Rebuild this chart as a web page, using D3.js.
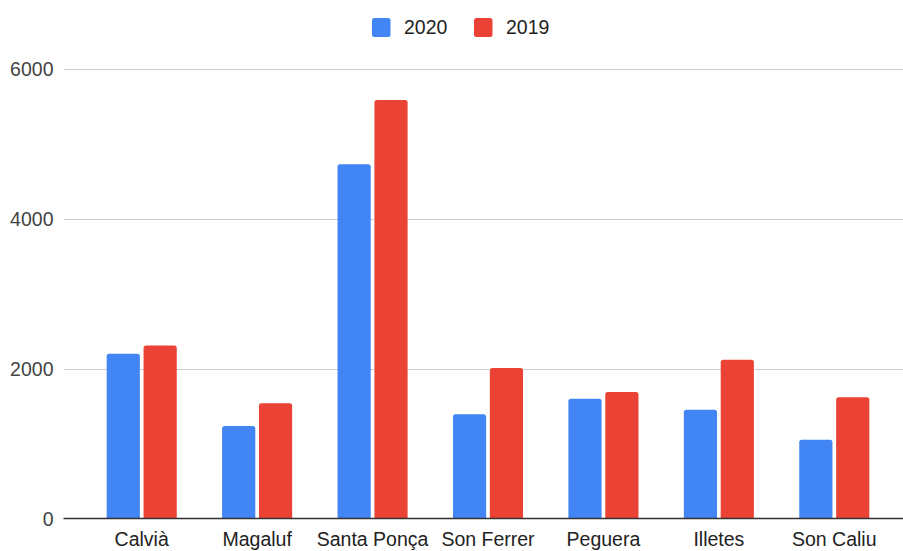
<!DOCTYPE html>
<html>
<head>
<meta charset="utf-8">
<script src="https://cdn.jsdelivr.net/npm/d3@7"></script>
<style>
  html, body { margin: 0; padding: 0; background: #fff; }
  svg { display: block; font-family: "Liberation Sans", Arial, sans-serif; }
</style>
</head>
<body>
<svg id="chart" width="903" height="551"></svg>
<script>
const categories = ["Calvià", "Magaluf", "Santa Ponça", "Son Ferrer", "Peguera", "Illetes", "Son Caliu"];
const seriesNames = ["2020", "2019"];
const values2020 = [2200, 1235, 4730, 1390, 1600, 1450, 1050];
const values2019 = [2310, 1540, 5585, 2010, 1690, 2120, 1620];
const yTicks = [0, 2000, 4000, 6000];
const colors = ["#4285F4", "#EA4335"];

const seriesValues = [values2020, values2019];
const svg = d3.select("#chart");
const fontSize = 19.5;

const y = d3.scaleLinear().domain([0, 6000]).range([518.5, 69]);
const x0 = d3.scaleBand().domain(categories).range([84, 892]).paddingInner(0.393).paddingOuter(0.1965);
const x1 = d3.scaleBand().domain(seriesNames).range([0, x0.bandwidth()]).paddingInner(0.1);

const gridLeft = 63.5, gridRight = 903;

// gridlines
svg.append("g").selectAll("line").data(yTicks.filter(t => t !== 0)).join("line")
  .attr("x1", gridLeft).attr("x2", gridRight)
  .attr("y1", d => Math.round(y(d)) + 0.5).attr("y2", d => Math.round(y(d)) + 0.5)
  .attr("stroke", "#cccccc").attr("stroke-width", 1);

// y labels
svg.append("g").selectAll("text").data(yTicks).join("text")
  .attr("x", 53.5).attr("y", d => y(d))
  .attr("dy", "0.36em")
  .attr("text-anchor", "end")
  .attr("font-size", fontSize)
  .attr("fill", "#444")
  .text(d => d);

// bars with rounded top corners
function barPath(xp, w, top, bottom, r) {
  r = Math.min(r, w / 2, bottom - top);
  return `M${xp},${bottom}V${top + r}Q${xp},${top} ${xp + r},${top}H${xp + w - r}Q${xp + w},${top} ${xp + w},${top + r}V${bottom}Z`;
}

const groups = svg.append("g").selectAll("g").data(categories).join("g")
  .attr("transform", d => `translate(${x0(d)},0)`);

groups.selectAll("path").data((c, i) => seriesNames.map((s, k) => ({ s, k, v: seriesValues[k][i] }))).join("path")
  .attr("d", d => barPath(x1(d.s), x1.bandwidth(), y(d.v), y(0), 2.5))
  .attr("fill", d => colors[d.k]);

// baseline axis
svg.append("line")
  .attr("x1", gridLeft).attr("x2", gridRight)
  .attr("y1", 518.5).attr("y2", 518.5)
  .attr("stroke", "#333").attr("stroke-width", 1.3);

// x labels
svg.append("g").selectAll("text").data(categories).join("text")
  .attr("x", d => x0(d) + x0.bandwidth() / 2)
  .attr("y", 546)
  .attr("text-anchor", "middle")
  .attr("font-size", fontSize)
  .attr("fill", "#222")
  .text(d => d);

// legend
const legendItems = [{ name: seriesNames[0], x: 372 }, { name: seriesNames[1], x: 474 }];
const lg = svg.append("g").selectAll("g").data(legendItems).join("g")
  .attr("transform", d => `translate(${d.x},0)`);
lg.append("rect")
  .attr("x", 0).attr("y", 18).attr("width", 18.5).attr("height", 19)
  .attr("rx", 2.5)
  .attr("fill", (d, i) => colors[i]);
lg.append("text")
  .attr("x", 32).attr("y", 33.5)
  .attr("font-size", fontSize)
  .attr("fill", "#222")
  .text(d => d.name);
</script>
</body>
</html>
